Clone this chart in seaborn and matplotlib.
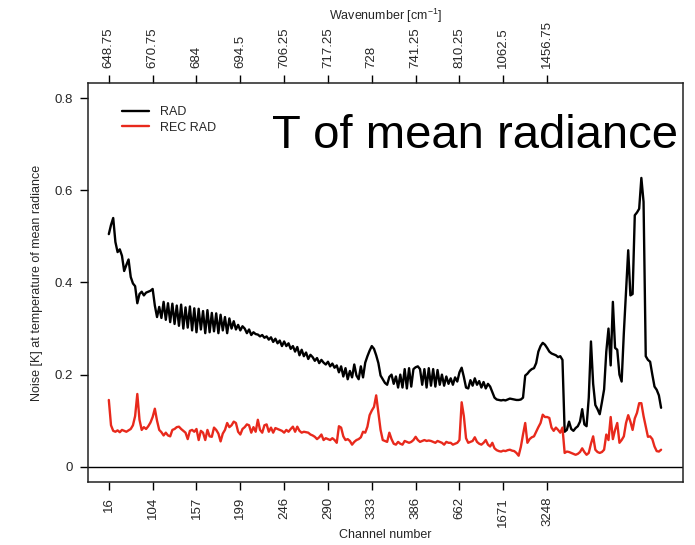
import numpy as np
import pandas as pd
import matplotlib
matplotlib.use("Agg")
import matplotlib.pyplot as plt
import seaborn as sns

# ---- data ----
channel_labels = ["16", "104", "157", "199", "246", "290", "333", "386", "662", "1671", "3248"]
wavenumber_labels = ["648.75", "670.75", "684", "694.5", "706.25", "717.25", "728", "741.25",
                     "810.25", "1062.5", "1456.75"]
tick_step = 20

rad = [
    0.505, 0.525, 0.540, 0.488, 0.466, 0.472, 0.458, 0.425, 0.438, 0.450,
    0.412, 0.398, 0.392, 0.355, 0.375, 0.380, 0.372, 0.378, 0.380, 0.382,
    0.386, 0.350, 0.325, 0.347, 0.323, 0.358, 0.319, 0.355, 0.314, 0.354,
    0.310, 0.350, 0.306, 0.352, 0.300, 0.346, 0.302, 0.348, 0.296, 0.344,
    0.292, 0.343, 0.298, 0.338, 0.290, 0.340, 0.292, 0.334, 0.294, 0.333,
    0.290, 0.330, 0.296, 0.325, 0.290, 0.322, 0.300, 0.316, 0.298, 0.308,
    0.296, 0.305, 0.300, 0.290, 0.298, 0.286, 0.292, 0.288, 0.287, 0.283,
    0.286, 0.280, 0.283, 0.276, 0.281, 0.271, 0.278, 0.268, 0.274, 0.262,
    0.272, 0.262, 0.268, 0.256, 0.262, 0.250, 0.260, 0.242, 0.254, 0.240,
    0.248, 0.234, 0.243, 0.238, 0.230, 0.236, 0.225, 0.232, 0.226, 0.222,
    0.228, 0.218, 0.224, 0.215, 0.220, 0.205, 0.218, 0.196, 0.214, 0.190,
    0.208, 0.194, 0.222, 0.198, 0.190, 0.218, 0.194, 0.226, 0.240, 0.252,
    0.262, 0.256, 0.242, 0.225, 0.198, 0.190, 0.182, 0.178, 0.195, 0.200,
    0.180, 0.196, 0.172, 0.200, 0.172, 0.212, 0.170, 0.214, 0.174, 0.212,
    0.216, 0.218, 0.212, 0.178, 0.212, 0.172, 0.214, 0.176, 0.212, 0.174,
    0.210, 0.178, 0.200, 0.176, 0.196, 0.180, 0.192, 0.178, 0.194, 0.185,
    0.205, 0.215, 0.195, 0.172, 0.170, 0.188, 0.176, 0.192, 0.178, 0.186,
    0.172, 0.184, 0.170, 0.180, 0.174, 0.162, 0.150, 0.146, 0.145, 0.144,
    0.145, 0.144, 0.146, 0.148, 0.147, 0.146, 0.145, 0.145, 0.146, 0.150,
    0.198, 0.202, 0.208, 0.212, 0.214, 0.225, 0.250, 0.262, 0.269, 0.265,
    0.258, 0.250, 0.246, 0.244, 0.242, 0.238, 0.240, 0.232, 0.076, 0.080,
    0.098, 0.082, 0.078, 0.084, 0.088, 0.098, 0.125, 0.092, 0.088, 0.150,
    0.272, 0.180, 0.134, 0.125, 0.114, 0.140, 0.168, 0.250, 0.300, 0.220,
    0.358, 0.258, 0.254, 0.200, 0.185, 0.290, 0.380, 0.470, 0.372, 0.375,
    0.546, 0.552, 0.560, 0.627, 0.575, 0.240, 0.232, 0.228, 0.200, 0.174,
    0.167, 0.155, 0.128,
]

rec_rad = [
    0.145, 0.090, 0.078, 0.076, 0.079, 0.075, 0.080, 0.078, 0.076, 0.079,
    0.082, 0.090, 0.110, 0.158, 0.102, 0.080, 0.086, 0.082, 0.088, 0.096,
    0.108, 0.126, 0.100, 0.080, 0.075, 0.068, 0.074, 0.068, 0.066, 0.080,
    0.082, 0.086, 0.087, 0.082, 0.078, 0.074, 0.060, 0.078, 0.080, 0.076,
    0.082, 0.058, 0.078, 0.074, 0.058, 0.080, 0.066, 0.065, 0.085, 0.080,
    0.072, 0.055, 0.072, 0.080, 0.095, 0.086, 0.090, 0.098, 0.095, 0.076,
    0.070, 0.082, 0.086, 0.092, 0.090, 0.074, 0.086, 0.076, 0.102, 0.080,
    0.074, 0.090, 0.092, 0.076, 0.085, 0.074, 0.084, 0.082, 0.080, 0.078,
    0.074, 0.080, 0.076, 0.082, 0.087, 0.076, 0.087, 0.078, 0.074, 0.076,
    0.075, 0.074, 0.070, 0.068, 0.065, 0.060, 0.064, 0.070, 0.058, 0.062,
    0.060, 0.058, 0.062, 0.058, 0.052, 0.088, 0.085, 0.066, 0.058, 0.060,
    0.056, 0.048, 0.054, 0.058, 0.060, 0.064, 0.076, 0.074, 0.087, 0.112,
    0.122, 0.130, 0.155, 0.118, 0.080, 0.058, 0.056, 0.054, 0.074, 0.060,
    0.050, 0.048, 0.054, 0.050, 0.048, 0.056, 0.054, 0.052, 0.054, 0.058,
    0.065, 0.058, 0.054, 0.056, 0.058, 0.056, 0.057, 0.056, 0.054, 0.052,
    0.056, 0.054, 0.052, 0.048, 0.054, 0.052, 0.052, 0.048, 0.050, 0.052,
    0.058, 0.140, 0.110, 0.062, 0.052, 0.054, 0.056, 0.064, 0.054, 0.050,
    0.048, 0.052, 0.058, 0.048, 0.044, 0.052, 0.040, 0.036, 0.034, 0.033,
    0.035, 0.034, 0.036, 0.037, 0.035, 0.034, 0.030, 0.024, 0.043, 0.070,
    0.095, 0.052, 0.060, 0.064, 0.066, 0.076, 0.086, 0.095, 0.113, 0.108,
    0.108, 0.106, 0.085, 0.078, 0.085, 0.080, 0.074, 0.085, 0.030, 0.033,
    0.032, 0.030, 0.028, 0.026, 0.028, 0.032, 0.040, 0.032, 0.026, 0.030,
    0.050, 0.066, 0.037, 0.032, 0.030, 0.032, 0.037, 0.070, 0.058, 0.108,
    0.060, 0.080, 0.095, 0.052, 0.058, 0.066, 0.095, 0.112, 0.098, 0.080,
    0.105, 0.117, 0.138, 0.138, 0.110, 0.087, 0.065, 0.066, 0.060, 0.044,
    0.034, 0.033, 0.037,
]

series_names = ["RAD", "REC RAD"]
series_colors = {"RAD": "#000000", "REC RAD": "#e8291c"}

# ---- build table ----
df = pd.concat([
    pd.DataFrame({"idx": np.arange(len(rad)), "noise": rad, "series": "RAD"}),
    pd.DataFrame({"idx": np.arange(len(rec_rad)), "noise": rec_rad, "series": "REC RAD"}),
])

sns.set_style("white")
plt.rcParams["font.family"] = ["Liberation Sans", "DejaVu Sans"]
plt.rcParams["mathtext.fontset"] = "custom"
plt.rcParams["mathtext.rm"] = "Liberation Sans"
plt.rcParams["mathtext.it"] = "Liberation Sans"
plt.rcParams["mathtext.default"] = "regular"

W, H = 695, 545
fig = plt.figure(figsize=(W / 100, H / 100), dpi=100)
L, R, T, B = 88, 683, 83.5, 481.5
ax = fig.add_axes([L / W, 1 - B / H, (R - L) / W, (B - T) / H])

sns.lineplot(data=df, x="idx", y="noise", hue="series", hue_order=series_names,
             palette=series_colors, linewidth=1.7, ax=ax, legend=True,
             estimator=None, sort=False)

ax.axhline(0, color="black", lw=1.0, zorder=1)

ax.set_xlim(-9.5, 262)
ax.set_ylim(-0.032, 0.832)

ticks = np.arange(len(channel_labels)) * tick_step
ax.set_xticks(ticks)
ax.set_xticklabels(channel_labels, rotation=90, fontsize=9.5)
ax.set_yticks([0, 0.2, 0.4, 0.6, 0.8])
ax.set_yticklabels(["0", "0.2", "0.4", "0.6", "0.8"], fontsize=9.5)
ax.tick_params(axis="both", direction="out", length=6, width=1.0, color="black",
               bottom=True, left=True, pad=5)

ax.set_xlabel("Channel number", fontsize=9, labelpad=2)
ax.set_ylabel("Noise [K] at temperature of mean radiance", fontsize=9, labelpad=8)

secax = ax.secondary_xaxis("top")
secax.set_xticks(ticks)
secax.set_xticklabels(wavenumber_labels, rotation=90, fontsize=9.5)
secax.tick_params(axis="x", direction="out", length=6, width=1.0, color="black", pad=5)
secax.set_xlabel("Wavenumber [cm$^{-1}$]", fontsize=9, labelpad=0)
secax.spines["top"].set_visible(False)

for s in ax.spines.values():
    s.set_visible(True)
    s.set_color("#222222")
    s.set_linewidth(1.1)

handles, labels = ax.get_legend_handles_labels()
leg = ax.legend(handles, series_names, loc="upper left",
                bbox_to_anchor=((121.7 - L) / (R - L), 1 - (106 - T) / (B - T)),
                frameon=False, fontsize=9, handlelength=2.15, handletextpad=0.95,
                labelspacing=0.3, borderpad=0, borderaxespad=0)
for h in leg.get_lines():
    h.set_linewidth(1.7)

fig.text(678 / W, 1 - 148 / H, "T of mean radiance", fontsize=34, ha="right",
         va="baseline", color="black")

fig.savefig("out.png", dpi=100)
